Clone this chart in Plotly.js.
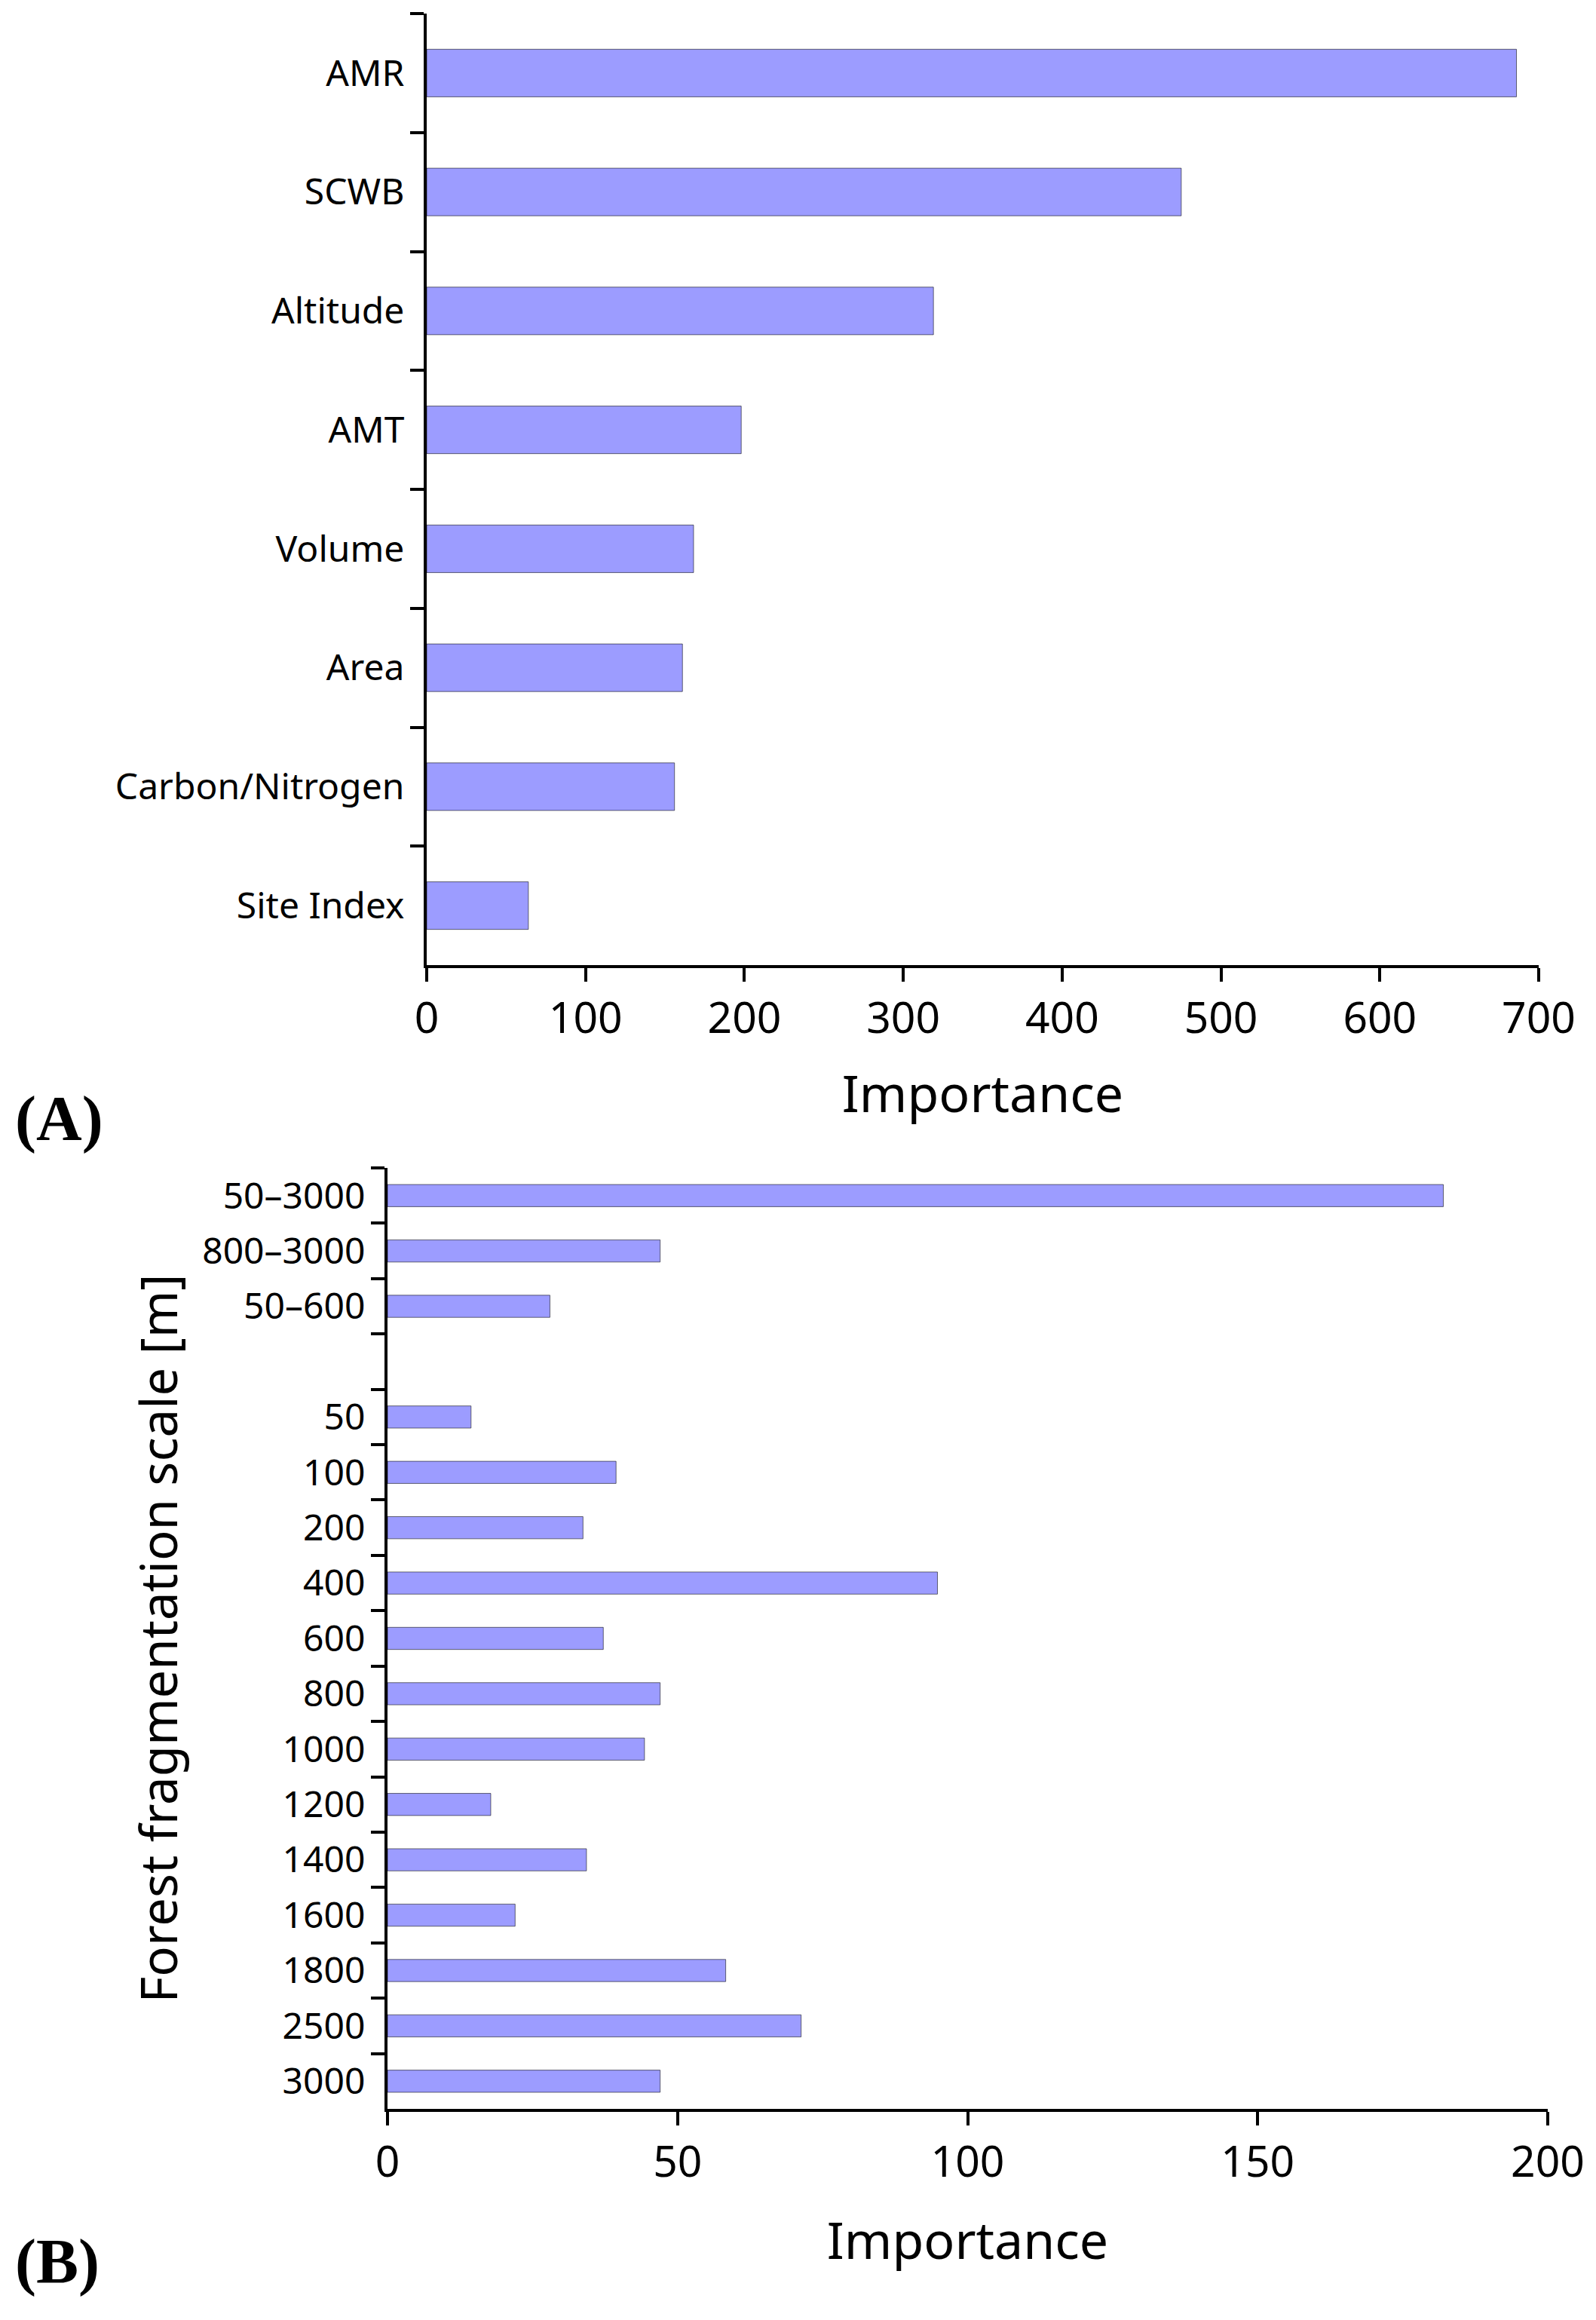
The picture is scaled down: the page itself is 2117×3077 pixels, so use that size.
<!DOCTYPE html>
<html>
<head>
<meta charset="utf-8">
<script src="https://cdn.plot.ly/plotly-3.0.1.min.js"></script>
<style>html,body{margin:0;padding:0;background:#fff;}</style>
</head>
<body>
<div id="chart" style="width:2117px;height:3077px;"></div>
<script>
// Panel A data
const namesA = ["AMR", "SCWB", "Altitude", "AMT", "Volume", "Area", "Carbon/Nitrogen", "Site Index"];
const valuesA = [686, 475, 319, 198, 168, 161, 156, 64];
const ticksA = [0, 100, 200, 300, 400, 500, 600, 700];

// Panel B data
const namesB = ["50–3000", "800–3000", "50–600", " ", "50", "100", "200", "400", "600", "800", "1000", "1200", "1400", "1600", "1800", "2500", "3000"];
const valuesB = [182, 47, 28, null, 14.4, 39.4, 33.7, 94.8, 37.2, 47, 44.3, 17.8, 34.3, 22, 58.3, 71.3, 47];
const ticksB = [0, 50, 100, 150, 200];

const W = 2117, H = 3077;
const FONT = "Noto Sans, Open Sans, sans-serif";
const barColor = "#9C9CFF";

const traces = [
  {
    type: "bar", orientation: "h",
    x: valuesA, y: namesA, xaxis: "x", yaxis: "y",
    marker: {color: barColor, line: {color: "rgba(0,0,0,0.55)", width: 1}},
    hoverinfo: "x+y"
  },
  {
    type: "bar", orientation: "h",
    x: valuesB, y: namesB, xaxis: "x2", yaxis: "y2",
    marker: {color: barColor, line: {color: "rgba(0,0,0,0.55)", width: 1}},
    hoverinfo: "x+y"
  }
];

const axCommon = {
  showline: true, linecolor: "#000", linewidth: 4,
  ticks: "outside", ticklen: 18, tickwidth: 4, tickcolor: "#000",
  showgrid: false, zeroline: false, fixedrange: true
};

const layout = {
  width: W, height: H,
  margin: {l: 0, r: 0, t: 0, b: 0},
  paper_bgcolor: "#fff", plot_bgcolor: "#fff",
  showlegend: false,
  bargap: 0.6,
  font: {family: FONT, color: "#000"},
  xaxis: Object.assign({}, axCommon, {
    domain: [566 / W, 2041 / W], anchor: "y",
    range: [0, 700], tickmode: "array", tickvals: ticksA,
    tickfont: {size: 57, family: FONT},
    title: {text: "Importance", font: {size: 68, family: FONT}, standoff: 42}
  }),
  yaxis: Object.assign({}, axCommon, {
    domain: [1 - 1280 / H, 1 - 18 / H], anchor: "x",
    type: "category", categoryorder: "array", categoryarray: namesA,
    autorange: "reversed", tickson: "boundaries",
    ticklabelstandoff: 16,
    tickfont: {size: 48, family: FONT}
  }),
  xaxis2: Object.assign({}, axCommon, {
    domain: [514 / W, 2053 / W], anchor: "y2",
    range: [0, 200], tickmode: "array", tickvals: ticksB,
    tickfont: {size: 57, family: FONT},
    title: {text: "Importance", font: {size: 68, family: FONT}, standoff: 46}
  }),
  yaxis2: Object.assign({}, axCommon, {
    domain: [1 - 2797 / H, 1 - 1549 / H], anchor: "x2",
    type: "category", categoryorder: "array", categoryarray: namesB,
    autorange: "reversed", tickson: "boundaries",
    ticklabelstandoff: 16,
    tickfont: {size: 48, family: FONT},
    title: {text: "Forest fragmentation scale [m]", font: {size: 67, family: FONT}, standoff: 12}
  }),
  annotations: [
    {text: "<b>(A)</b>", xref: "paper", yref: "paper", x: 18 / W, y: 1 - 1484 / H,
     xanchor: "left", yanchor: "middle", showarrow: false,
     font: {family: "Liberation Serif, Times New Roman, serif", size: 84, color: "#000"}},
    {text: "<b>(B)</b>", xref: "paper", yref: "paper", x: 18 / W, y: 1 - 3000 / H,
     xanchor: "left", yanchor: "middle", showarrow: false,
     font: {family: "Liberation Serif, Times New Roman, serif", size: 84, color: "#000"}}
  ]
};

Plotly.newPlot("chart", traces, layout, {displayModeBar: false, staticPlot: true});
</script>
</body>
</html>
